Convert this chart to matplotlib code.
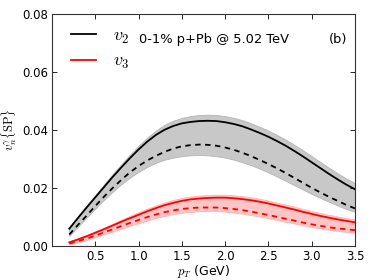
import numpy as np
import matplotlib
matplotlib.use("Agg")
import matplotlib.pyplot as plt

plt.rcParams['mathtext.fontset'] = 'cm'
plt.rcParams['font.family'] = ['DejaVu Sans']

pt = [0.2, 0.3, 0.4, 0.5, 0.6, 0.7, 0.8, 0.9, 1.0, 1.1, 1.2, 1.3, 1.4, 1.5, 1.6, 1.7, 1.8, 1.9,
      2.0, 2.1, 2.2, 2.3, 2.4, 2.5, 2.6, 2.7, 2.8, 2.9, 3.0, 3.1, 3.2, 3.3, 3.4, 3.5]
v2_solid = [0.0060, 0.0097, 0.0133, 0.0168, 0.0203, 0.0238, 0.0271, 0.0303, 0.0333, 0.0360, 0.0383,
            0.0401, 0.0414, 0.0423, 0.0428, 0.0431, 0.0432, 0.0431, 0.0427, 0.0421, 0.0413, 0.0402,
            0.0390, 0.0377, 0.0362, 0.0346, 0.0328, 0.0309, 0.0289, 0.0269, 0.0249, 0.0230, 0.0212, 0.0196]
v2_dashed = [0.0040, 0.0073, 0.0105, 0.0138, 0.0170, 0.0200, 0.0228, 0.0254, 0.0276, 0.0295, 0.0311,
             0.0325, 0.0336, 0.0344, 0.0348, 0.0350, 0.0349, 0.0346, 0.0340, 0.0332, 0.0322, 0.0310,
             0.0297, 0.0283, 0.0268, 0.0252, 0.0235, 0.0218, 0.0201, 0.0185, 0.0170, 0.0156, 0.0142, 0.0130]
v2_band_hi = [0.0065, 0.0103, 0.0140, 0.0176, 0.0212, 0.0248, 0.0282, 0.0315, 0.0346, 0.0374, 0.0398,
              0.0418, 0.0432, 0.0442, 0.0448, 0.0452, 0.0453, 0.0452, 0.0448, 0.0442, 0.0434, 0.0423,
              0.0411, 0.0398, 0.0383, 0.0367, 0.0349, 0.0330, 0.0310, 0.0290, 0.0270, 0.0251, 0.0233, 0.0217]
v2_band_lo = [0.0035, 0.0067, 0.0098, 0.0129, 0.0159, 0.0187, 0.0213, 0.0236, 0.0256, 0.0273, 0.0287,
              0.0298, 0.0305, 0.0310, 0.0313, 0.0314, 0.0313, 0.0310, 0.0305, 0.0298, 0.0289, 0.0279,
              0.0267, 0.0254, 0.0240, 0.0225, 0.0210, 0.0195, 0.0180, 0.0166, 0.0153, 0.0140, 0.0128, 0.0118]
v3_solid = [0.0013, 0.0023, 0.0034, 0.0046, 0.0058, 0.0071, 0.0084, 0.0096, 0.0108, 0.0120, 0.0131,
            0.0141, 0.0149, 0.0156, 0.0161, 0.0164, 0.0166, 0.0167, 0.0167, 0.0165, 0.0162, 0.0158,
            0.0153, 0.0147, 0.0140, 0.0133, 0.0126, 0.0118, 0.0111, 0.0104, 0.0098, 0.0092, 0.0087, 0.0082]
v3_dashed = [0.0009, 0.0017, 0.0026, 0.0036, 0.0047, 0.0058, 0.0069, 0.0080, 0.0090, 0.0100, 0.0109,
             0.0117, 0.0123, 0.0128, 0.0131, 0.0133, 0.0133, 0.0133, 0.0131, 0.0128, 0.0124, 0.0119,
             0.0113, 0.0107, 0.0101, 0.0094, 0.0088, 0.0081, 0.0075, 0.0070, 0.0065, 0.0061, 0.0058, 0.0055]
v3_band_hi = [0.0016, 0.0027, 0.0038, 0.0051, 0.0064, 0.0077, 0.0091, 0.0104, 0.0117, 0.0129, 0.0140,
              0.0151, 0.0159, 0.0166, 0.0171, 0.0174, 0.0176, 0.0177, 0.0177, 0.0175, 0.0172, 0.0168,
              0.0163, 0.0157, 0.0150, 0.0143, 0.0136, 0.0128, 0.0121, 0.0114, 0.0108, 0.0102, 0.0097, 0.0092]
v3_band_lo = [0.0006, 0.0013, 0.0021, 0.0030, 0.0040, 0.0050, 0.0060, 0.0070, 0.0079, 0.0088, 0.0097,
              0.0104, 0.0110, 0.0115, 0.0118, 0.0120, 0.0121, 0.0121, 0.0119, 0.0116, 0.0112, 0.0107,
              0.0102, 0.0096, 0.0090, 0.0084, 0.0078, 0.0072, 0.0066, 0.0061, 0.0056, 0.0052, 0.0049, 0.0046]

xticks = [0.5, 1.0, 1.5, 2.0, 2.5, 3.0, 3.5]
yticks = [0.00, 0.02, 0.04, 0.06, 0.08]

fig = plt.figure(figsize=(3.74, 2.80), dpi=100)
ax = fig.add_axes([0.139, 0.121, 0.810, 0.829])

ax.fill_between(pt, v2_band_lo, v2_band_hi, facecolor='#c8c8c8', edgecolor='#b4b4b4', linewidth=0.6)
ax.fill_between(pt, v3_band_lo, v3_band_hi, facecolor='#ffc4c4', edgecolor='#ffb0b0', linewidth=0.6)
ax.plot(pt, v2_dashed, color='black', linestyle='--', linewidth=1.3, dashes=(3, 2.5))
ax.plot(pt, v3_dashed, color='red', linestyle='--', linewidth=1.3, dashes=(3, 2.5))
l2, = ax.plot(pt, v2_solid, color='black', linewidth=1.3)
l3, = ax.plot(pt, v3_solid, color='red', linewidth=1.3)

ax.set_xlim(0, 3.5)
ax.set_ylim(0, 0.08)
ax.set_xticks(xticks)
ax.set_yticks(yticks)
ax.set_xticklabels([f"{t:.1f}" for t in xticks])
ax.set_yticklabels([f"{t:.2f}" for t in yticks])
ax.tick_params(direction='in', top=True, right=True, labelsize=8.5, length=3.5, width=0.6, pad=3)
for s in ax.spines.values():
    s.set_linewidth(0.8)
    s.set_color('#333333')

ax.set_xlabel(r'$p_T$ (GeV)', fontsize=9, labelpad=0)
ax.set_ylabel(r'$v_n^\gamma\{\mathrm{SP}\}$', fontsize=9, labelpad=2)

leg = ax.legend([l2, l3], [r'$v_2$', r'$v_3$'], loc='upper left', frameon=False,
                fontsize=13, handlelength=1.4, bbox_to_anchor=(0.063, 0.945), borderaxespad=0,
                borderpad=0, labelspacing=0.35, handletextpad=0.9)
ax.text(0.287, 0.892, '0-1% p+Pb @ 5.02 TeV', transform=ax.transAxes, fontsize=9.4, va='center')
ax.text(0.974, 0.892, '(b)', transform=ax.transAxes, fontsize=9.4, va='center', ha='right')

fig.savefig('out.png', dpi=100)
